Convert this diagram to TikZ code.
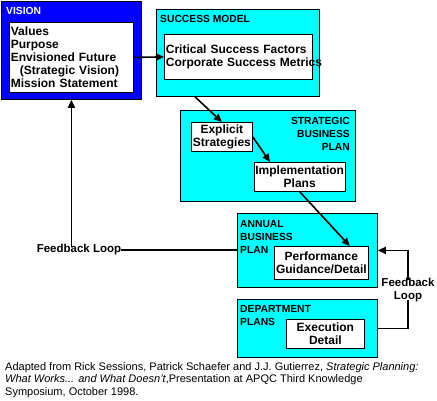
\documentclass[tikz,border=0pt]{standalone}
\usepackage{fontspec}
\setmainfont{Liberation Sans}
\usetikzlibrary{arrows.meta,positioning}
\definecolor{visc}{RGB}{0,0,255}
\definecolor{panc}{RGB}{0,255,255}
\tikzset{
  vis/.style={rectangle,draw=black,fill=visc,line width=0.8pt,anchor=north west,inner sep=0pt},
  pan/.style={rectangle,draw=black,fill=panc,line width=0.8pt,anchor=north west,inner sep=0pt},
  inb/.style={rectangle,draw=black,fill=white,line width=0.8pt,anchor=north west,inner sep=1pt,align=center,font=\fontsize{12}{13}\selectfont\bfseries},
  lbl/.style={inner sep=0pt,font=\fontsize{10.3}{13}\selectfont\bfseries},
  flow/.style={-{Triangle[length=8pt,width=7pt]},line width=1.6pt,black},
  fb/.style={line width=1.6pt,black},
}
\begin{document}
\begin{tikzpicture}[x=1pt,y=-1pt]
  \useasboundingbox (0,0) rectangle (437,400);
  % vision
  \node[vis,minimum width=140pt,minimum height=98pt] (vision) at (1,1){};
  \node[lbl,white,anchor=west] (visionlbl) at (6,11){VISION};
  \node[inb,minimum width=124pt,minimum height=70pt,align=left,text width=121pt] (visionin) at (9,22)
    {Values\\Purpose\\Envisioned Future\\\hspace*{9pt}(Strategic Vision)\\Mission Statement};
  % success model
  \node[pan,minimum width=163pt,minimum height=87pt] (success) at (156,9){};
  \node[lbl,anchor=west] (successlbl) at (160,19){SUCCESS MODEL};
  \node[inb,minimum width=148pt,minimum height=45pt,align=left,text width=145pt] (successin) at (164,34)
    {\mbox{Critical Success Factors}\\\mbox{Corporate Success Metrics}};
  % strategic business plan
  \node[pan,minimum width=175pt,minimum height=91pt] (strat) at (180,110){};
  \node[lbl,anchor=north east,align=right] (stratlbl) at (350,117){STRATEGIC\\BUSINESS\hspace*{3pt}\\PLAN};
  \node[inb,minimum width=61pt,minimum height=29pt] (explicit) at (191,122){Explicit\\Strategies};
  \node[inb,minimum width=90pt,minimum height=29pt] (impl) at (254,162){Implementation\\Plans};
  % annual business plan
  \node[pan,minimum width=140pt,minimum height=74pt] (annual) at (237,213){};
  \node[lbl,anchor=north west,align=left] (annuallbl) at (240,220){ANNUAL\\BUSINESS\\PLAN};
  \node[inb,minimum width=94pt,minimum height=33pt] (perf) at (274,246){Performance\\Guidance/Detail};
  % department plans
  \node[pan,minimum width=140pt,minimum height=58pt] (dept) at (237,299){};
  \node[lbl,anchor=north west,align=left] (deptlbl) at (240,305){DEPARTMENT\\PLANS};
  \node[inb,minimum width=78pt,minimum height=29pt] (exec) at (286,319){Execution\\Detail};
  % flow arrows
  \draw[flow] (visionin.east) -- (successin.west);
  \draw[flow] ([xshift=39pt]success.south west) -- (explicit.north);
  \draw[flow] (explicit.east) -- ([xshift=16pt]impl.north west);
  \draw[flow] (impl.south) -- ([xshift=-19pt]perf.north east);
  % feedback loops
  \node[lbl,font=\fontsize{11.5}{13}\selectfont\bfseries] (fbleft) at (79,250){Feedback Loop};
  \draw[flow] ([yshift=-3pt]fbleft.north -| vision.south) -- (vision.south);
  \draw[fb] (fbleft.east) -- (fbleft.east -| annual.west);
  \node[lbl,align=center,font=\fontsize{11.5}{13}\selectfont\bfseries] (fbright) at (408,290){Feedback\\Loop};
  \draw[fb] (dept.east) -| ([yshift=2pt]fbright.south);
  \draw[flow] ([yshift=-2pt]fbright.north) |- (annual.east);
  % source
  \node[inner sep=0pt,anchor=north west,align=left,font=\fontsize{11}{12.7}\selectfont] (source) at (5,362)
    {Adapted from Rick Sessions, Patrick Schaefer and J.J. Gutierrez, \textit{Strategic Planning:}\\
     \textit{What Works... and What Doesn't},Presentation at APQC Third Knowledge\\
     Symposium, October 1998.};
\end{tikzpicture}
\end{document}
